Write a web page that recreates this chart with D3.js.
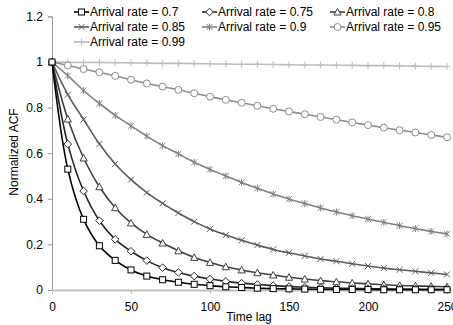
<!DOCTYPE html>
<html>
<head>
<meta charset="utf-8">
<script src="https://cdn.jsdelivr.net/npm/d3@7"></script>
<style>
  body { margin: 0; background: #fff; }
  text { font-family: "Liberation Sans", Arial, sans-serif; }
</style>
</head>
<body>
<script>
var w = 453;
var h = 325;

// time lags (every 10)
var lags = d3.range(0, 251, 10);

var rates = ["0.7", "0.75", "0.8", "0.85", "0.9", "0.95", "0.99"];

var acf07 = [1, 0.53, 0.31, 0.194, 0.13, 0.088, 0.061, 0.045, 0.034, 0.025, 0.019, 0.014, 0.011,
    0.008, 0.006, 0.005, 0.004, 0.003, 0.002, 0.002, 0.002, 0.001, 0.001, 0.001, 0.001, 0.001];
var acf075 = [1, 0.64, 0.434, 0.304, 0.222, 0.17, 0.129, 0.098, 0.077, 0.061, 0.048, 0.038, 0.03,
    0.024, 0.019, 0.015, 0.012, 0.01, 0.008, 0.007, 0.006, 0.005, 0.004, 0.004, 0.003, 0.003];
var acf08 = [1, 0.75, 0.579, 0.453, 0.361, 0.294, 0.244, 0.206, 0.172, 0.143, 0.121, 0.102, 0.088,
    0.076, 0.066, 0.056, 0.048, 0.041, 0.036, 0.031, 0.027, 0.023, 0.02, 0.018, 0.016, 0.014];
var acf085 = [1, 0.857, 0.748, 0.64, 0.553, 0.484, 0.427, 0.38, 0.338, 0.3, 0.268, 0.241, 0.218,
    0.197, 0.178, 0.163, 0.149, 0.136, 0.126, 0.115, 0.105, 0.096, 0.089, 0.082, 0.075, 0.068];
var acf09 = [1, 0.94, 0.875, 0.818, 0.766, 0.72, 0.675, 0.633, 0.597, 0.56, 0.529, 0.5, 0.472,
    0.446, 0.421, 0.399, 0.379, 0.36, 0.342, 0.326, 0.311, 0.297, 0.282, 0.269, 0.257, 0.246];
var acf095 = [1, 0.985, 0.969, 0.955, 0.939, 0.922, 0.906, 0.892, 0.878, 0.863, 0.848, 0.834, 0.821,
    0.808, 0.795, 0.783, 0.771, 0.759, 0.747, 0.735, 0.723, 0.712, 0.701, 0.691, 0.68, 0.67];
var acf099 = [1, 0.999, 0.998, 0.998, 0.997, 0.996, 0.995, 0.994, 0.994, 0.993, 0.992, 0.991, 0.99,
    0.99, 0.989, 0.988, 0.987, 0.987, 0.986, 0.985, 0.984, 0.984, 0.983, 0.982, 0.981, 0.98];

var yTicks = [0, 0.2, 0.4, 0.6, 0.8, 1, 1.2];
var xTicks = [0, 50, 100, 150, 200, 250];

var series = [
    { name: rates[0], values: acf07,  color: "#000000", marker: "square" },
    { name: rates[1], values: acf075, color: "#262626", marker: "diamond" },
    { name: rates[2], values: acf08,  color: "#404040", marker: "triangle" },
    { name: rates[3], values: acf085, color: "#5a5a5a", marker: "x" },
    { name: rates[4], values: acf09,  color: "#808080", marker: "star" },
    { name: rates[5], values: acf095, color: "#8c8c8c", marker: "circle" },
    { name: rates[6], values: acf099, color: "#bdbdbd", marker: "plus" }
];

var svg = d3.select("body").append("svg")
    .attr("width", w)
    .attr("height", h);

var x = d3.scaleLinear().domain([0, 250]).range([52, 447]);
var y = d3.scaleLinear().domain([0, 1.2]).range([290, 16.4]);

// y axis
var yAxis = svg.append("g")
    .attr("transform", "translate(52,0)")
    .call(d3.axisLeft(y).tickValues(yTicks).tickSize(4).tickPadding(5)
        .tickFormat(function(d) { return d3.format("~g")(d); }));
yAxis.select(".domain").attr("stroke", "#9a9a9a");
yAxis.selectAll(".tick line").attr("stroke", "#9a9a9a");
yAxis.selectAll("text").attr("font-size", 12).attr("fill", "#000");

// x axis
var xAxis = svg.append("g")
    .attr("transform", "translate(0,290)")
    .call(d3.axisBottom(x).tickValues(xTicks).tickSize(4).tickSizeOuter(0).tickPadding(8));
xAxis.select(".domain").attr("stroke", "#c0c0c0").attr("stroke-width", 2);
xAxis.selectAll(".tick line").attr("stroke", "#c0c0c0");
xAxis.selectAll("text").attr("font-size", 12).attr("fill", "#000");

svg.append("text")
    .attr("x", 249).attr("y", 321)
    .attr("text-anchor", "middle")
    .attr("font-size", 12)
    .text("Time lag");

svg.append("text")
    .attr("transform", "translate(18,152) rotate(-90)")
    .attr("text-anchor", "middle")
    .attr("font-size", 12)
    .text("Normalized ACF");

function drawMarker(g, type, color) {
    if (type == "square") {
        g.append("rect").attr("x", -3).attr("y", -3).attr("width", 6).attr("height", 6)
            .attr("fill", "#fff").attr("stroke", color).attr("stroke-width", 1);
    } else if (type == "diamond") {
        g.append("path").attr("d", "M0,-3.8L3.8,0L0,3.8L-3.8,0Z")
            .attr("fill", "#fff").attr("stroke", color).attr("stroke-width", 1);
    } else if (type == "triangle") {
        g.append("path").attr("d", "M0,-3.6L3.6,3L-3.6,3Z")
            .attr("fill", "#fff").attr("stroke", color).attr("stroke-width", 1);
    } else if (type == "x") {
        g.append("path").attr("d", "M-3,-3L3,3M-3,3L3,-3")
            .attr("stroke", color).attr("stroke-width", 1);
    } else if (type == "star") {
        g.append("path").attr("d", "M-3,-3L3,3M-3,3L3,-3M0,-3.5L0,3.5")
            .attr("stroke", color).attr("stroke-width", 1);
    } else if (type == "circle") {
        g.append("circle").attr("r", 3.5)
            .attr("fill", "#fff").attr("stroke", color).attr("stroke-width", 1);
    } else if (type == "plus") {
        g.append("path").attr("d", "M0,-3.5L0,3.5M-3.5,0L3.5,0")
            .attr("stroke", color).attr("stroke-width", 1);
    }
}

var line = d3.line()
    .x(function(d, i) { return x(lags[i]); })
    .y(function(d) { return y(d); })
    .curve(d3.curveCatmullRom.alpha(0.5));

// draw from lightest (back) to darkest (front)
var order = series.slice().reverse();
order.forEach(function(s) {
    var g = svg.append("g");
    g.append("path")
        .attr("d", line(s.values))
        .attr("fill", "none")
        .attr("stroke", s.color)
        .attr("stroke-width", 1.6);
    g.selectAll(".m")
        .data(s.values)
        .enter().append("g")
        .attr("transform", function(d, i) { return "translate(" + x(lags[i]) + "," + y(d) + ")"; })
        .each(function() { drawMarker(d3.select(this), s.marker, s.color); });
});

// legend
var legX = [74, 202, 330];
var legY = [12, 27, 42];
series.forEach(function(s, i) {
    var lx = legX[i % 3], ly = legY[Math.floor(i / 3)];
    var g = svg.append("g").attr("transform", "translate(" + lx + "," + ly + ")");
    g.append("line").attr("x1", 0).attr("x2", 15).attr("y1", 0).attr("y2", 0)
        .attr("stroke", s.color).attr("stroke-width", 1.6);
    var m = g.append("g").attr("transform", "translate(7.5,0)");
    drawMarker(m, s.marker, s.color);
    g.append("text").attr("x", 16).attr("y", 4.3)
        .attr("font-size", 12)
        .text("Arrival rate = " + s.name);
});
</script>
</body>
</html>
